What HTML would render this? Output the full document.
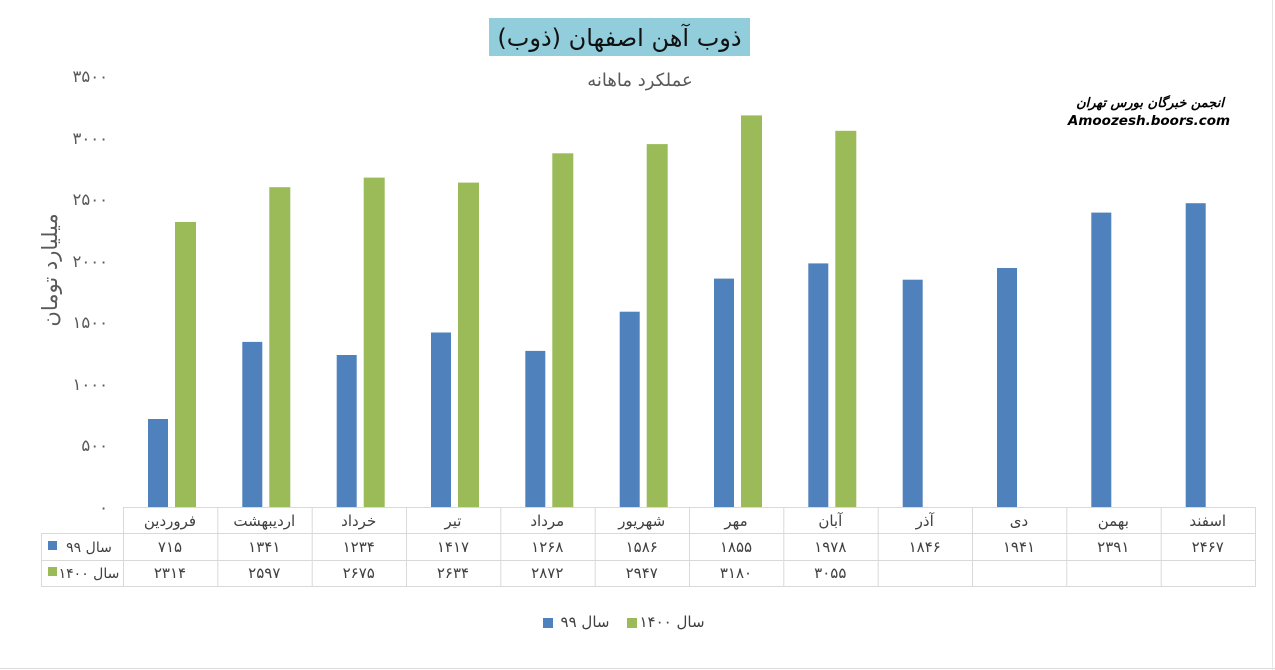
<!DOCTYPE html>
<html><head><meta charset="utf-8">
<style>
html,body{margin:0;padding:0;background:#fff;}
svg{display:block;font-family:"DejaVu Sans","Liberation Sans",sans-serif;}
</style></head>
<body>
<svg width="1275" height="670" viewBox="0 0 1275 670" xmlns="http://www.w3.org/2000/svg">
<rect x="0" y="0" width="1275" height="670" fill="#fff"/>
<line x1="0" y1="668.5" x2="1275" y2="668.5" stroke="#d9d9d9"/>
<line x1="1272.5" y1="0" x2="1272.5" y2="670" stroke="#e6e6e6"/>
<rect x="489" y="18" width="261" height="38" fill="#92cddc"/>
<text x="619.5" y="46" font-size="24" text-anchor="middle" fill="#111" direction="rtl">ذوب آهن اصفهان (ذوب)</text>
<text x="640" y="86" font-size="18" text-anchor="middle" fill="#595959" direction="rtl">عملکرد ماهانه</text>
<text x="1150" y="107" font-size="13" font-weight="bold" font-style="italic" text-anchor="middle" fill="#000" direction="rtl">انجمن خبرگان بورس تهران</text>
<text x="1149" y="125" font-size="13.5" font-weight="bold" font-style="italic" text-anchor="middle" fill="#000">Amoozesh.boors.com</text>
<g font-size="16.5" fill="#595959" text-anchor="end">
<text x="108" y="82">۳۵۰۰</text>
<text x="108" y="144">۳۰۰۰</text>
<text x="108" y="205">۲۵۰۰</text>
<text x="108" y="267">۲۰۰۰</text>
<text x="108" y="328">۱۵۰۰</text>
<text x="108" y="390">۱۰۰۰</text>
<text x="108" y="451">۵۰۰</text>
<text x="108" y="513">۰</text>
</g>
<text transform="translate(57,270) rotate(-90)" font-size="21" text-anchor="middle" fill="#595959" direction="rtl">میلیارد تومان</text>
<g fill="#4f81bd">
<rect x="148" y="419" width="20" height="88"/>
<rect x="242.3" y="341.9" width="20" height="165.1"/>
<rect x="336.7" y="355" width="20" height="152"/>
<rect x="431" y="332.5" width="20" height="174.5"/>
<rect x="525.3" y="350.9" width="20" height="156.1"/>
<rect x="619.7" y="311.7" width="20" height="195.3"/>
<rect x="714" y="278.6" width="20" height="228.4"/>
<rect x="808.3" y="263.4" width="20" height="243.6"/>
<rect x="902.7" y="279.7" width="20" height="227.3"/>
<rect x="997" y="268" width="20" height="239"/>
<rect x="1091.3" y="212.6" width="20" height="294.4"/>
<rect x="1185.7" y="203.2" width="20" height="303.8"/>
</g>
<g fill="#9bbb59">
<rect x="175" y="222" width="21" height="285"/>
<rect x="269.3" y="187.2" width="21" height="319.8"/>
<rect x="363.7" y="177.6" width="21" height="329.4"/>
<rect x="458" y="182.6" width="21" height="324.4"/>
<rect x="552.3" y="153.3" width="21" height="353.7"/>
<rect x="646.7" y="144.1" width="21" height="362.9"/>
<rect x="741" y="115.4" width="21" height="391.6"/>
<rect x="835.3" y="130.8" width="21" height="376.2"/>
</g>
<g stroke="#d9d9d9" stroke-width="1" fill="none">
<line x1="123" y1="507.5" x2="1255" y2="507.5"/>
<line x1="41" y1="533.5" x2="1255" y2="533.5"/>
<line x1="41" y1="560.5" x2="1255" y2="560.5"/>
<line x1="41" y1="586.5" x2="1255" y2="586.5"/>
<line x1="41.5" y1="533" x2="41.5" y2="587"/>
<line x1="123.5" y1="507" x2="123.5" y2="587"/>
<line x1="217.8" y1="507" x2="217.8" y2="587"/>
<line x1="312.2" y1="507" x2="312.2" y2="587"/>
<line x1="406.5" y1="507" x2="406.5" y2="587"/>
<line x1="500.8" y1="507" x2="500.8" y2="587"/>
<line x1="595.2" y1="507" x2="595.2" y2="587"/>
<line x1="689.5" y1="507" x2="689.5" y2="587"/>
<line x1="783.8" y1="507" x2="783.8" y2="587"/>
<line x1="878.2" y1="507" x2="878.2" y2="587"/>
<line x1="972.5" y1="507" x2="972.5" y2="587"/>
<line x1="1066.8" y1="507" x2="1066.8" y2="587"/>
<line x1="1161.2" y1="507" x2="1161.2" y2="587"/>
<line x1="1255.5" y1="507" x2="1255.5" y2="587"/>
</g>
<g font-size="15" fill="#404040" text-anchor="middle">
<text x="170" y="526" direction="rtl">فروردین</text>
<text x="264.3" y="526" direction="rtl">اردیبهشت</text>
<text x="358.7" y="526" direction="rtl">خرداد</text>
<text x="453" y="526" direction="rtl">تیر</text>
<text x="547.3" y="526" direction="rtl">مرداد</text>
<text x="641.7" y="526" direction="rtl">شهریور</text>
<text x="736" y="526" direction="rtl">مهر</text>
<text x="830.3" y="526" direction="rtl">آبان</text>
<text x="924.7" y="526" direction="rtl">آذر</text>
<text x="1019" y="526" direction="rtl">دی</text>
<text x="1113.3" y="526" direction="rtl">بهمن</text>
<text x="1207.7" y="526" direction="rtl">اسفند</text>

<text x="170" y="552">۷۱۵</text>
<text x="264.3" y="552">۱۳۴۱</text>
<text x="358.7" y="552">۱۲۳۴</text>
<text x="453" y="552">۱۴۱۷</text>
<text x="547.3" y="552">۱۲۶۸</text>
<text x="641.7" y="552">۱۵۸۶</text>
<text x="736" y="552">۱۸۵۵</text>
<text x="830.3" y="552">۱۹۷۸</text>
<text x="924.7" y="552">۱۸۴۶</text>
<text x="1019" y="552">۱۹۴۱</text>
<text x="1113.3" y="552">۲۳۹۱</text>
<text x="1207.7" y="552">۲۴۶۷</text>

<text x="170" y="578">۲۳۱۴</text>
<text x="264.3" y="578">۲۵۹۷</text>
<text x="358.7" y="578">۲۶۷۵</text>
<text x="453" y="578">۲۶۳۴</text>
<text x="547.3" y="578">۲۸۷۲</text>
<text x="641.7" y="578">۲۹۴۷</text>
<text x="736" y="578">۳۱۸۰</text>
<text x="830.3" y="578">۳۰۵۵</text>

<text x="585" y="627" direction="rtl">سال ۹۹</text>
<text x="672" y="627" direction="rtl">سال ۱۴۰۰</text>
</g>
<g font-size="14" fill="#404040" text-anchor="middle">
<text x="89" y="552" direction="rtl">سال ۹۹</text>
<text x="89" y="578" direction="rtl">سال ۱۴۰۰</text>
</g>
<rect x="48" y="541" width="9" height="9" fill="#4f81bd"/>
<rect x="48" y="567" width="9" height="9" fill="#9bbb59"/>
<rect x="543" y="618" width="10" height="10" fill="#4f81bd"/>
<rect x="627" y="618" width="10" height="10" fill="#9bbb59"/>
</svg>
</body></html>
